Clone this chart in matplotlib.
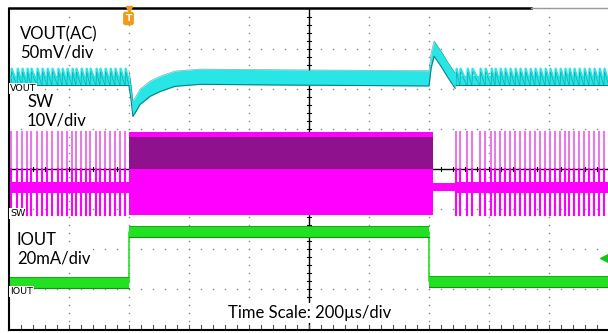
import matplotlib
matplotlib.use("Agg")
import matplotlib.pyplot as plt
import numpy as np

# time in us (0 = trigger), screen values in divisions
pulses_before = [-393, -373, -357, -340, -327, -307, -290, -273, -257, -237, -223,
                 -207, -190, -177, -160, -143, -130, -110, -97, -80, -63, -47, -30, -13]
pulses_after = [1090, 1103, 1127, 1143, 1170, 1187, 1207, 1220, 1237, 1253, 1270,
                1287, 1303, 1320, 1337, 1353, 1370, 1387, 1403, 1420, 1437, 1453,
                1467, 1483, 1500, 1517, 1533, 1550, 1567, 1583]

# VOUT (AC) trace, heavy-load section: centre of the trace band
vout_t = [0, 7, 13, 23, 37, 70, 103, 153, 237, 570, 1000]
vout_y = [2.26, 1.9, 1.5, 1.62, 1.8, 2.0, 2.12, 2.25, 2.3, 2.28, 2.26]
# load-release overshoot
vout_rel_t = [1000, 1007, 1017, 1040, 1063, 1087]
vout_rel_y = [2.26, 2.7, 3.0, 2.75, 2.47, 2.2]
vout_light_low, vout_light_high = 2.15, 2.5

# SW levels
sw_top, sw_bottom = 0.925, -1.15
sw_band = (-0.33, -0.6)
sw_heavy_t = [0, 1013]
sw_idle_t = [1013, 1087]

# IOUT levels
iout_t = [-400, 0, 0, 1000, 1000, 1600]
iout_y = [-2.83, -2.83, -1.56, -1.56, -2.8, -2.8]
iout_half = 0.14

cyan, cyan_edge = '#28e6e6', '#0d8088'
mag, mag_light, mag_dark = '#ff00ff', '#e77ae7', '#8e128e'
green, green_edge = '#22e022', '#0b980b'

W, H = 608, 333
fig = plt.figure(figsize=(W / 100, H / 100), dpi=100)
ax = fig.add_axes([9 / W, (H - 329.5) / H, 600 / W, 321 / H])
ax.set_xlim(-400, 1600)
ax.set_ylim(-4, 4)
ax.axis('off')

# graticule
for k in range(1, 10):
    t = -400 + 200 * k
    if t == 600:
        continue
    yy = np.arange(-4, 4.01, 0.2)
    ax.scatter(np.full_like(yy, t), yy, s=1.2, c='#8a8a8a', lw=0, zorder=1)
for y in range(-3, 4):
    if y == 0:
        continue
    tt = np.arange(-400, 1601, 40)
    ax.scatter(tt, np.full_like(tt, y, dtype=float), s=1.2, c='#8a8a8a', lw=0, zorder=1)
ax.axvline(600, color='black', lw=1, zorder=1)
ax.axhline(0, color='black', lw=1, zorder=1)
for t in np.arange(-400, 1601, 40):
    ax.plot([t, t], [-0.06, 0.06], color='black', lw=0.8, zorder=1)
    ax.plot([t, t], [-4, -3.9], color='#555555', lw=0.8, zorder=1)
for y in np.arange(-4, 4.01, 0.2):
    ax.plot([593, 607], [y, y], color='black', lw=0.8, zorder=1)
ax.plot([-400, -400], [-4, 4], color='black', lw=1.5, zorder=6, clip_on=False)
ax.plot([-400, 1600], [-4, -4], color='black', lw=1.5, zorder=6, clip_on=False)
ax.plot([-400, 1340], [4.02, 4.02], color='black', lw=1.8, zorder=6, clip_on=False)
ax.plot([1340, 1600], [4.02, 4.02], color='#999999', lw=1, zorder=6, clip_on=False)

# SW trace
for p in pulses_before + pulses_after:
    ax.plot([p, p], [0, sw_top], color=mag_light, lw=1.5, zorder=2)
    ax.plot([p, p], [sw_bottom, 0], color=mag, lw=1.5, zorder=2)
ax.fill_between([-400, 0], sw_band[0], sw_band[1], color=mag, lw=0, zorder=2)
ax.fill_between([pulses_after[0], 1600], sw_band[0], sw_band[1], color=mag, lw=0, zorder=2)
ax.fill_between(sw_idle_t, -0.36, -0.55, color=mag, lw=0, zorder=2)
ax.fill_between(sw_heavy_t, sw_bottom, sw_top, color=mag, lw=0, zorder=2)
ax.fill_between(sw_heavy_t, 0, sw_top - 0.12, color=mag_dark, lw=0, zorder=2)

# VOUT trace
def sawtooth(pulses, t_end):
    xs, ys = [], []
    for i, p in enumerate(pulses):
        nxt = pulses[i + 1] if i + 1 < len(pulses) else t_end
        xs += [p, p + 2, nxt]
        ys += [vout_light_low, vout_light_high, vout_light_low]
    return xs, ys

for pl, t0, t1 in [(pulses_before, -400, 0), (pulses_after, 1087, 1600)]:
    ax.fill_between([t0, t1], 2.1, 2.32, color=cyan, lw=0, zorder=3)
    ax.plot([t0, t1], [2.1, 2.1], color=cyan_edge, lw=0.8, zorder=3)
    xs, ys = sawtooth(pl, t1)
    ax.plot(xs, ys, color=cyan, lw=1.6, zorder=3)
    ax.plot(xs, np.array(ys) - 0.08, color=cyan_edge, lw=0.5, alpha=0.6, zorder=3)
ax.plot([-400, -393], [2.3, 2.3], color=cyan, lw=1, zorder=3)

vt = np.array(vout_t + vout_rel_t[1:])
vy = np.array(vout_y + vout_rel_y[1:])
ax.fill_between(vt, vy - 0.19, vy + 0.19, color=cyan, lw=0, zorder=3)
ax.plot(vt, vy - 0.19, color=cyan_edge, lw=0.8, zorder=3)
ax.plot(vt, vy + 0.19, color=cyan_edge, lw=0.5, alpha=0.6, zorder=3)

# IOUT trace
it = np.array(iout_t)
iy = np.array(iout_y)
ax.plot(it, iy, color=green, lw=1.2, zorder=4)
segs = [(0, 1), (2, 3), (4, 5)]
for a, b in segs:
    ax.fill_between(it[[a, b]], iy[[a, b]] - iout_half, iy[[a, b]] + iout_half,
                    color=green, lw=0, zorder=4)
    ax.plot(it[[a, b]], iy[[a, b]] - iout_half, color=green_edge, lw=0.8, zorder=4)
    ax.plot(it[[a, b]], iy[[a, b]] + iout_half, color=green_edge, lw=0.5, zorder=4)
ax.plot([1583], [-2.22], marker='<', ms=6, color='#19c419', zorder=7, clip_on=False)


def ftext(px, py, s, **kw):
    fig.text(px / W, 1 - py / H, s, **kw)


big = dict(fontsize=12, family=['Lato', 'DejaVu Sans'], va='baseline', zorder=8,
           bbox=dict(facecolor='white', edgecolor='none', pad=1.5))
small = dict(fontsize=6.8, family='DejaVu Sans', va='baseline', zorder=8,
             bbox=dict(facecolor='white', edgecolor='none', pad=0.6))
ftext(20, 39, 'VOUT(AC)', **big)
ftext(20, 58, '50mV/div', **big)
ftext(27, 107, 'SW', **big)
ftext(27, 125, '10V/div', **big)
ftext(17, 245, 'IOUT', **big)
ftext(17, 263, '20mA/div', **big)
ftext(228, 318, 'Time Scale: 200\u00b5s/div', **big)
ftext(10, 91, 'VOUT', **small)
ftext(10, 216, 'SW', **small)
ftext(10, 294, 'IOUT', **small)

# trigger marker
ax.plot([0], [4.0], marker='v', ms=4, color='#f29a1a', zorder=9, clip_on=False)
ftext(128.5, 18.5, 'T', fontsize=6.5, color='white', weight='bold', ha='center', va='center',
      zorder=9, bbox=dict(boxstyle='round,pad=0.25', facecolor='#f29a1a', edgecolor='none'))

fig.savefig('out.png', dpi=100)
